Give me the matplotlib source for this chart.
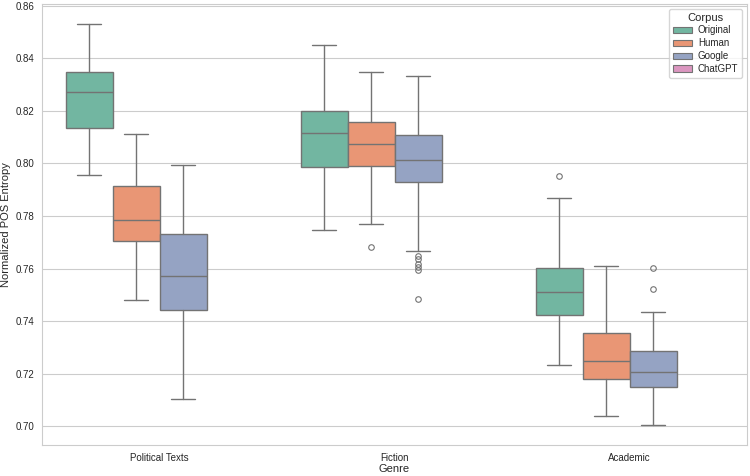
import matplotlib
matplotlib.use("Agg")
import matplotlib.pyplot as plt
import matplotlib.patches as mpatches
import seaborn as sns

sns.set_style("whitegrid")
plt.rcParams['font.family'] = ['Liberation Sans', 'DejaVu Sans']

genres = ['Political Texts', 'Fiction', 'Academic']
corpora = ['Original', 'Human', 'Google', 'ChatGPT']

# per genre, per corpus: whisker low, q1, median, q3, whisker high, outliers
original = [
    (0.7956, 0.8137, 0.8272, 0.8349, 0.8531, []),
    (0.7747, 0.7985, 0.8118, 0.8198, 0.8451, []),
    (0.7234, 0.7422, 0.7511, 0.7604, 0.7868, [0.7951]),
]
human = [
    (0.7482, 0.7706, 0.7783, 0.7914, 0.8113, []),
    (0.7770, 0.7992, 0.8075, 0.8157, 0.8347, [0.7682]),
    (0.7039, 0.7180, 0.7248, 0.7354, 0.7608, []),
]
google = [
    (0.7104, 0.7442, 0.7571, 0.7733, 0.7995, []),
    (0.7665, 0.7929, 0.8014, 0.8108, 0.8333, [0.7648, 0.7635, 0.7619, 0.7606, 0.7594, 0.7485]),
    (0.7005, 0.7150, 0.7205, 0.7285, 0.7435, [0.7602, 0.7523]),
]
chatgpt = [None, None, None]

series = [original, human, google, chatgpt]
palette = sns.color_palette('Set2', 4)
colors = [sns.desaturate(c, 0.75) for c in palette]
line_c = '#737373'

fig = plt.figure(figsize=(7.5, 4.76), dpi=100)
ax = fig.add_axes([0.056, 0.065, 0.94, 0.927])

n = len(corpora)
w = 0.8 / n
for j, (name, data) in enumerate(zip(corpora, series)):
    offset = -0.4 + w * (j + 0.5)
    stats, pos = [], []
    for i, s in enumerate(data):
        if s is None:
            continue
        lo, q1, med, q3, hi, fl = s
        stats.append(dict(whislo=lo, q1=q1, med=med, q3=q3, whishi=hi, fliers=fl))
        pos.append(i + offset)
    if not stats:
        continue
    ax.bxp(stats, positions=pos, widths=w, patch_artist=True, manage_ticks=False,
           boxprops=dict(facecolor=colors[j], edgecolor=line_c, linewidth=1.0),
           medianprops=dict(color=line_c, linewidth=1.0),
           whiskerprops=dict(color=line_c, linewidth=1.0),
           capprops=dict(color=line_c, linewidth=1.0),
           flierprops=dict(marker='o', markerfacecolor='none', markeredgecolor=line_c,
                           markersize=4, markeredgewidth=0.8))

ax.set_xlim(-0.5, 2.5)
ax.set_ylim(0.6928, 0.8608)
ax.grid(False, axis='x')
ax.set_xticks(range(len(genres)))
ax.set_xticklabels(genres, fontsize=7)
ax.set_yticks([0.70, 0.72, 0.74, 0.76, 0.78, 0.80, 0.82, 0.84, 0.86])
ax.set_yticklabels([f'{v:.2f}' for v in ax.get_yticks()], fontsize=7)
ax.tick_params(axis='both', pad=2)
ax.set_xlabel('Genre', fontsize=8, labelpad=1)
ax.set_ylabel('Normalized POS Entropy', fontsize=8, labelpad=3)

handles = [mpatches.Patch(facecolor=colors[j], edgecolor=line_c, linewidth=0.8, label=c)
           for j, c in enumerate(corpora)]
ax.legend(handles=handles, title='Corpus', loc='upper right', fontsize=7, title_fontsize=8,
          handlelength=2.0, handleheight=0.7, labelspacing=0.3, borderpad=0.4,
          handletextpad=0.6)

fig.savefig('out.png', dpi=100)
